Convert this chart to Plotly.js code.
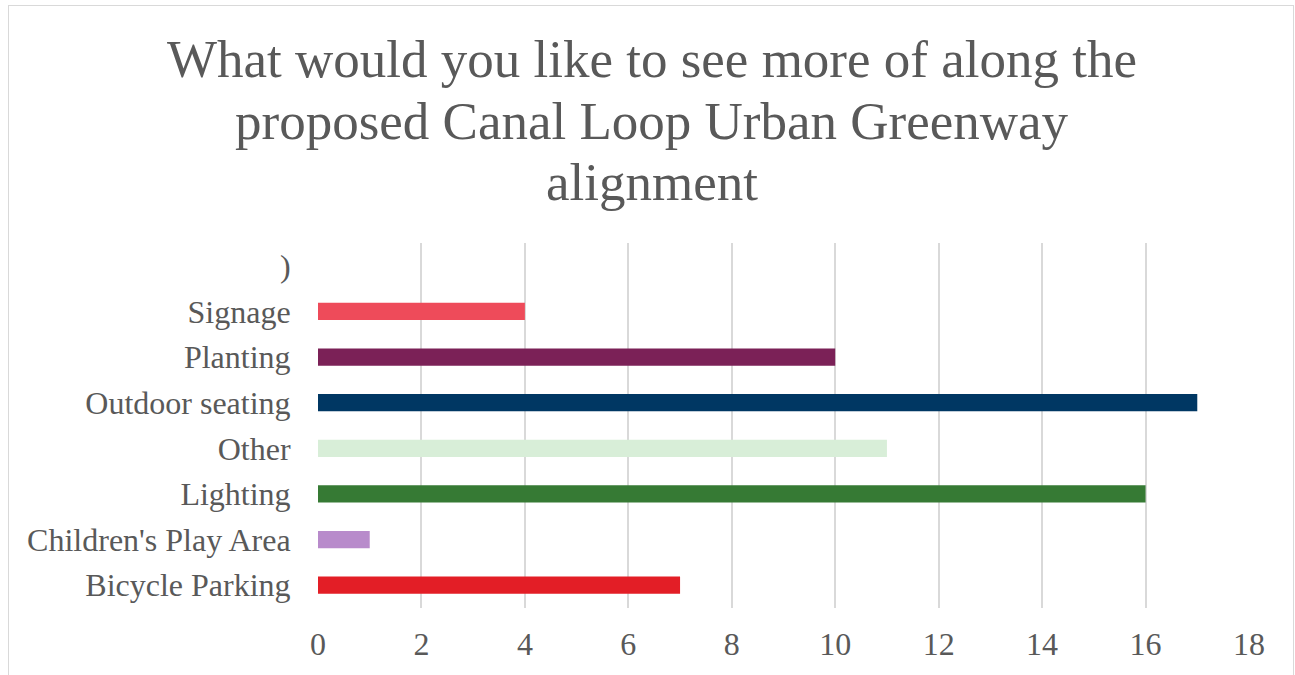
<!DOCTYPE html>
<html>
<head>
<meta charset="utf-8">
<script src="https://cdn.plot.ly/plotly-3.0.1.min.js"></script>
<style>
html,body{margin:0;padding:0;background:#fff;overflow:hidden;}
#chart{width:1295px;height:675px;}
#frame{position:absolute;left:8px;top:5px;width:1284px;height:700px;border:1px solid #d9d9d9;pointer-events:none;}
</style>
</head>
<body>
<div id="chart"></div>
<div id="frame"></div>
<script>
const categories = ["Bicycle Parking", "Children's Play Area", "Lighting", "Other", "Outdoor seating", "Planting", "Signage", ")"];
const values = [7, 1, 16, 11, 17, 10, 4, null];
const colors = ["#E31E26", "#B88BCB", "#367A34", "#D8EED8", "#003763", "#7B2157", "#EE4B5A", "#ffffff"];
const xTicks = [0, 2, 4, 6, 8, 10, 12, 14, 16, 18];
const titleLines = ["What would you like to see more of along the", "proposed Canal Loop Urban Greenway", "alignment"];

const font = "Liberation Serif, Times New Roman, serif";
const trace = {
  type: "bar",
  orientation: "h",
  y: categories,
  x: values,
  marker: {color: colors},
  width: 0.38,
  hoverinfo: "x+y"
};
const plotTop = 243, plotH = 365, plotL = 318, plotW = 931;
const lineCenters = [59, 121, 182];
const annotations = titleLines.map((t, i) => ({
  text: t, showarrow: false,
  xref: "paper", yref: "paper",
  x: (652 - plotL) / plotW, xanchor: "center",
  y: 1 + (plotTop - lineCenters[i]) / plotH, yanchor: "middle",
  font: {family: font, size: 53, color: "#595959"}
}));
const layout = {
  width: 1295, height: 675,
  margin: {l: 318, r: 46, t: 243, b: 67},
  paper_bgcolor: "#fff", plot_bgcolor: "#fff",
  showlegend: false,
  annotations: annotations,
  xaxis: {
    range: [0, 18],
    tickvals: xTicks,
    ticktext: xTicks.map(String),
    showgrid: true, gridcolor: "#d9d9d9", gridwidth: 2,
    zeroline: false, showline: false,
    ticks: "outside", ticklen: 8, tickcolor: "rgba(0,0,0,0)",
    tickfont: {family: font, size: 32, color: "#595959"},
    fixedrange: true
  },
  yaxis: {
    type: "category",
    categoryorder: "array", categoryarray: categories,
    showgrid: false, zeroline: false, showline: false,
    ticks: "outside", ticklen: 20, tickcolor: "rgba(0,0,0,0)",
    tickfont: {family: font, size: 32, color: "#595959"},
    fixedrange: true
  }
};
Plotly.newPlot("chart", [trace], layout, {displayModeBar: false, staticPlot: true});
</script>
</body>
</html>
